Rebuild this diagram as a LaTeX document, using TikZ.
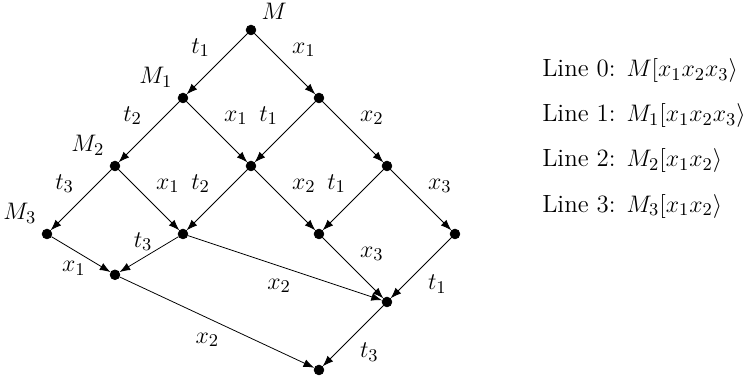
\documentclass[tikz,border=0pt]{standalone}
\usepackage{amsmath}
\usepackage{tikz}
\usetikzlibrary{positioning, arrows.meta}

\begin{document}
\begin{tikzpicture}[x=1.2cm, y=1.2cm, font=\fontsize{12.5}{15}\selectfont,
    state/.style={draw, circle, fill=black, inner sep=0pt, minimum size=0.17cm},
    arc/.style={-{Latex[length=1.9mm, width=1.4mm]}}]
  \useasboundingbox (-0.691,-2.132) rectangle (10.324,3.441);

  % reachability graph
  \node[state, label={above right:$M$}] (m0) at (3, 3) {};
  \node[state, label={above left:$M_1$}] (m1) at (2, 2) {};
  \node[state] (a1) at (4, 2) {};
  \node[state, label={above left:$M_2$}] (m2) at (1, 1) {};
  \node[state] (b1) at (3, 1) {};
  \node[state] (c1) at (5, 1) {};
  \node[state, label={above left:$M_3$}] (m3) at (0, 0) {};
  \node[state] (d1) at (2, 0) {};
  \node[state] (e1) at (4, 0) {};
  \node[state] (f1) at (6, 0) {};
  \node[state] (g1) at (1, -0.6) {};
  \node[state] (h1) at (5, -1) {};
  \node[state] (k1) at (4, -2) {};

  \draw[arc] (m0) -- node[above left] {$t_1$} (m1);
  \draw[arc] (m0) -- node[above right] {$x_1$} (a1);
  \draw[arc] (m1) -- node[above left] {$t_2$} (m2);
  \draw[arc] (m1) -- node[above right] {$x_1$} (b1);
  \draw[arc] (a1) -- node[above left] {$t_1$} (b1);
  \draw[arc] (a1) -- node[above right] {$x_2$} (c1);
  \draw[arc] (m2) -- node[above left] {$t_3$} (m3);
  \draw[arc] (m2) -- node[above right] {$x_1$} (d1);
  \draw[arc] (b1) -- node[above left] {$t_2$} (d1);
  \draw[arc] (b1) -- node[above right] {$x_2$} (e1);
  \draw[arc] (c1) -- node[above left] {$t_1$} (e1);
  \draw[arc] (c1) -- node[above right] {$x_3$} (f1);
  \draw[arc] (m3) -- node[below, pos=0.38, yshift=-2pt] {$x_1$} (g1);
  \draw[arc] (d1) -- node[above, pos=0.6] {$t_3$} (g1);
  \draw[arc] (d1) -- node[below, pos=0.47, yshift=-3pt] {$x_2$} (h1);
  \draw[arc] (e1) -- node[above right] {$x_3$} (h1);
  \draw[arc] (f1) -- node[below right] {$t_1$} (h1);
  \draw[arc] (g1) -- node[below, pos=0.45, yshift=-4pt] {$x_2$} (k1);
  \draw[arc] (h1) -- node[below right] {$t_3$} (k1);

  \node[anchor=base west] (line0) at (7.18, 2.31) {Line 0: $M[x_1x_2x_3\rangle$};
  \node[anchor=base west] (line1) at (7.18, 1.65) {Line 1: $M_1[x_1x_2x_3\rangle$};
  \node[anchor=base west] (line2) at (7.18, 0.99) {Line 2: $M_2[x_1x_2\rangle$};
  \node[anchor=base west] (line3) at (7.18, 0.32) {Line 3: $M_3[x_1x_2\rangle$};
\end{tikzpicture}
\end{document}
